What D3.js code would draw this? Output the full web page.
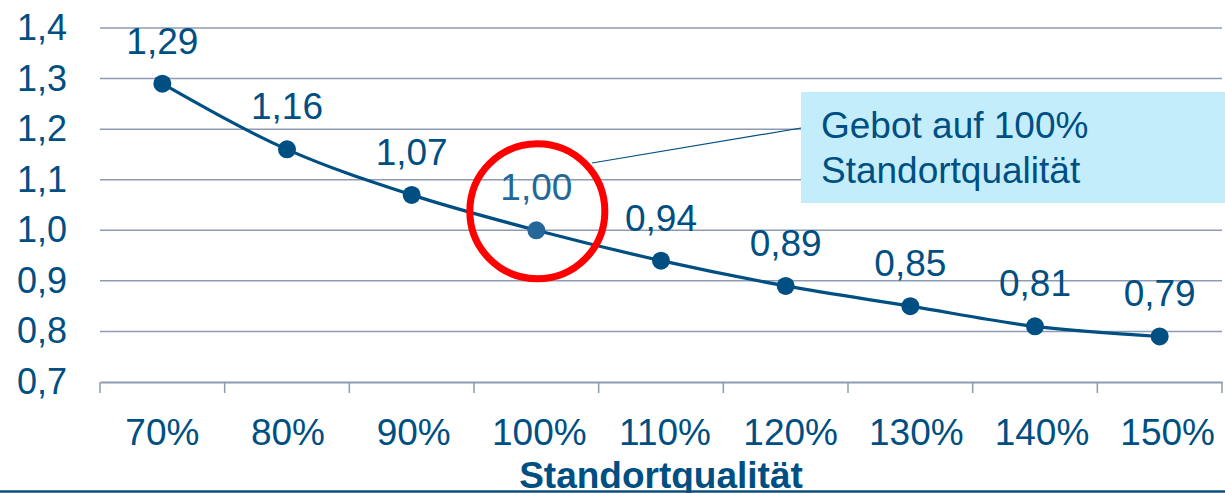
<!DOCTYPE html>
<html>
<head>
<meta charset="utf-8">
<script src="https://cdn.jsdelivr.net/npm/d3@7"></script>
<style>
  body { margin: 0; background: #fff; }
  svg { display: block; font-family: "Liberation Sans", Arial, sans-serif; }
</style>
</head>
<body>
<div id="chart"></div>
<script>
// chart data
var categories = ["70%", "80%", "90%", "100%", "110%", "120%", "130%", "140%", "150%"];
var values = [1.29, 1.16, 1.07, 1.00, 0.94, 0.89, 0.85, 0.81, 0.79];
var yTicks = [0.7, 0.8, 0.9, 1.0, 1.1, 1.2, 1.3, 1.4];
var highlight = "100%";
var calloutLines = ["Gebot auf 100%", "Standortqualität"];
var axisTitle = "Standortqualität";

var svgWidth = 1225;
var svgHeight = 493;
var textColor = "#004f82";
var gridColor = "#8e9cb3";

var svg = d3.select("#chart").append("svg")
  .attr("width", svgWidth)
  .attr("height", svgHeight);

// scales
var xScale = d3.scaleBand()
  .domain(categories)
  .range([100, 1222])
  .padding(0);

var yScale = d3.scaleLinear()
  .domain([0.7, 1.4])
  .range([382, 28]);

// horizontal gridlines
svg.append("g")
  .selectAll("line")
  .data(yTicks.slice(1))
  .enter()
  .append("line")
  .attr("x1", 100)
  .attr("x2", 1222)
  .attr("y1", d => yScale(d))
  .attr("y2", d => yScale(d))
  .attr("stroke", gridColor)
  .attr("stroke-width", 1.5);

// y axis labels
var leftAxis = d3.axisLeft(yScale)
  .tickValues(yTicks)
  .tickFormat(d => d3.format(".1f")(d).replace(".", ","))
  .tickSize(0)
  .tickPadding(33);

var yAxisG = svg.append("g")
  .attr("transform", "translate(100,0)")
  .call(leftAxis);
yAxisG.select(".domain").remove();
yAxisG.selectAll("text")
  .attr("fill", textColor)
  .style("font-size", "36px")
  .style("font-family", "'Liberation Sans', Arial, sans-serif");

// x axis
var bottomAxis = d3.axisBottom(xScale).tickSize(0).tickPadding(37);
var xAxisG = svg.append("g")
  .attr("transform", "translate(0," + yScale(0.7) + ")")
  .call(bottomAxis);
xAxisG.select(".domain")
  .attr("stroke", gridColor)
  .attr("stroke-width", 2.2);
xAxisG.selectAll("text")
  .attr("fill", textColor)
  .attr("dx", (d, i) => i * 1)
  .style("font-size", "37px")
  .style("font-family", "'Liberation Sans', Arial, sans-serif");

// tick marks at band edges
var edges = categories.map(c => xScale(c)).concat([xScale.range()[1]]);
svg.append("g")
  .selectAll("line")
  .data(edges)
  .enter()
  .append("line")
  .attr("x1", d => d)
  .attr("x2", d => d)
  .attr("y1", yScale(0.7))
  .attr("y2", yScale(0.7) + 11)
  .attr("stroke", gridColor)
  .attr("stroke-width", 1.5);

// line
var line = d3.line()
  .x((d, i) => xScale(categories[i]) + xScale.bandwidth() / 2)
  .y(d => yScale(d))
  .curve(d3.curveMonotoneX);

svg.append("path")
  .datum(values)
  .attr("d", line)
  .attr("fill", "none")
  .attr("stroke", textColor)
  .attr("stroke-width", 3.2);

// markers
svg.append("g")
  .selectAll("circle")
  .data(values)
  .enter()
  .append("circle")
  .attr("cx", (d, i) => xScale(categories[i]) + xScale.bandwidth() / 2)
  .attr("cy", d => yScale(d))
  .attr("r", 9)
  .attr("fill", (d, i) => categories[i] === highlight ? "#24689a" : textColor);

// value labels
svg.append("g")
  .selectAll("text")
  .data(values)
  .enter()
  .append("text")
  .attr("x", (d, i) => xScale(categories[i]) + xScale.bandwidth() / 2)
  .attr("y", d => yScale(d) - 30)
  .attr("text-anchor", "middle")
  .attr("fill", (d, i) => categories[i] === highlight ? "#24689a" : textColor)
  .style("font-size", "37px")
  .text(d => d3.format(".2f")(d).replace(".", ","));

// callout
var hx = xScale(highlight) + xScale.bandwidth() / 2;
var hy = yScale(1.0) - 19;

svg.append("line")
  .attr("x1", 592)
  .attr("y1", 163)
  .attr("x2", 801)
  .attr("y2", 128)
  .attr("stroke", textColor)
  .attr("stroke-width", 1.2);

svg.append("rect")
  .attr("x", 801)
  .attr("y", 92)
  .attr("width", svgWidth - 801)
  .attr("height", 111)
  .attr("fill", "#c4edfb");

svg.append("g")
  .selectAll("text")
  .data(calloutLines)
  .enter()
  .append("text")
  .attr("x", 821)
  .attr("y", (d, i) => 138 + i * 45)
  .attr("fill", textColor)
  .style("font-size", "37px")
  .text(d => d);

// red ring
svg.append("circle")
  .attr("cx", hx + 1)
  .attr("cy", hy)
  .attr("r", 67.5)
  .attr("fill", "none")
  .attr("stroke", "#ff0000")
  .attr("stroke-width", 7);

// axis title
svg.append("text")
  .attr("x", (xScale.range()[0] + xScale.range()[1]) / 2)
  .attr("y", 488)
  .attr("text-anchor", "middle")
  .attr("fill", textColor)
  .style("font-size", "37px")
  .style("font-weight", "bold")
  .text(axisTitle);

// bottom rule
svg.append("line")
  .attr("x1", 0)
  .attr("x2", svgWidth)
  .attr("y1", 491.5)
  .attr("y2", 491.5)
  .attr("stroke", "#0a4f80")
  .attr("stroke-width", 2.5);
</script>
</body>
</html>
